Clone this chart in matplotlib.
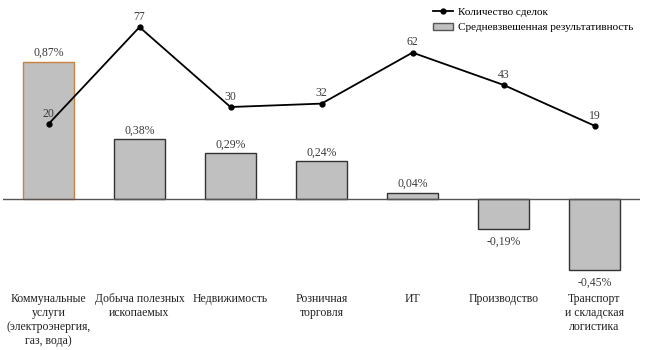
import matplotlib.pyplot as plt
from matplotlib.lines import Line2D
from matplotlib.patches import Patch

plt.rcParams['font.family'] = ['Liberation Serif', 'DejaVu Serif']

categories = ['Коммунальные\nуслуги\n(электроэнергия,\nгаз, вода)',
              'Добыча полезных\nископаемых',
              'Недвижимость',
              'Розничная\nторговля',
              'ИТ',
              'Производство',
              'Транспорт\nи складская\nлогистика']
performance = [0.87, 0.38, 0.29, 0.24, 0.04, -0.19, -0.45]
deals = [20, 77, 30, 32, 62, 43, 19]

fig = plt.figure(figsize=(6.47, 3.5), dpi=100)
ax = fig.add_axes([3 / 647, 58 / 350, 637 / 647, 282 / 350])
x = list(range(len(categories)))

edges = ['#c8823f'] + ['#333333'] * (len(categories) - 1)
ax.bar(x, performance, width=0.55, color='#c0c0c0', edgecolor=edges, linewidth=1)
ax.axhline(0, color='#555555', linewidth=1)
for xi, v in zip(x, performance):
    txt = ('%.2f%%' % v).replace('.', ',')
    if v >= 0:
        ax.annotate(txt, (xi, v), xytext=(0, 2), textcoords='offset points',
                    ha='center', va='bottom', fontsize=8.5, color='#3a3a3a')
    else:
        ax.annotate(txt, (xi, v), xytext=(0, -5), textcoords='offset points',
                    ha='center', va='top', fontsize=8.5, color='#3a3a3a')

ax.set_xlim(-0.5, 6.5)
ax.set_ylim(-0.5905, 1.2)
ax.set_xticks(x)
ax.set_xticklabels(categories, fontsize=8.5, linespacing=1.2, color='#222222')
ax.tick_params(axis='x', length=0, pad=1)
ax.set_yticks([])
for s in ax.spines.values():
    s.set_visible(False)

ax2 = ax.twinx()
ax2.plot(x, deals, color='black', linewidth=1.3, marker='o', markersize=3.5)
for xi, v in zip(x, deals):
    ax2.annotate(str(v), (xi, v), xytext=(0, 3), textcoords='offset points',
                 ha='center', va='bottom', fontsize=8.5, color='#3a3a3a')
ax2.set_ylim(-78.8, 87.06)
ax2.set_yticks([])
for s in ax2.spines.values():
    s.set_visible(False)

handles = [Line2D([0], [0], color='black', marker='o', markersize=3.5, linewidth=1.3),
           Patch(facecolor='#c0c0c0', edgecolor='#555555')]
ax2.legend(handles, ['Количество сделок', 'Средневзвешенная результативность'],
           loc='upper right', bbox_to_anchor=(1.005, 1.045), frameon=False,
           fontsize=8, handlelength=1.8, handletextpad=0.4, labelspacing=0.5)

fig.savefig('out.png', dpi=100)
